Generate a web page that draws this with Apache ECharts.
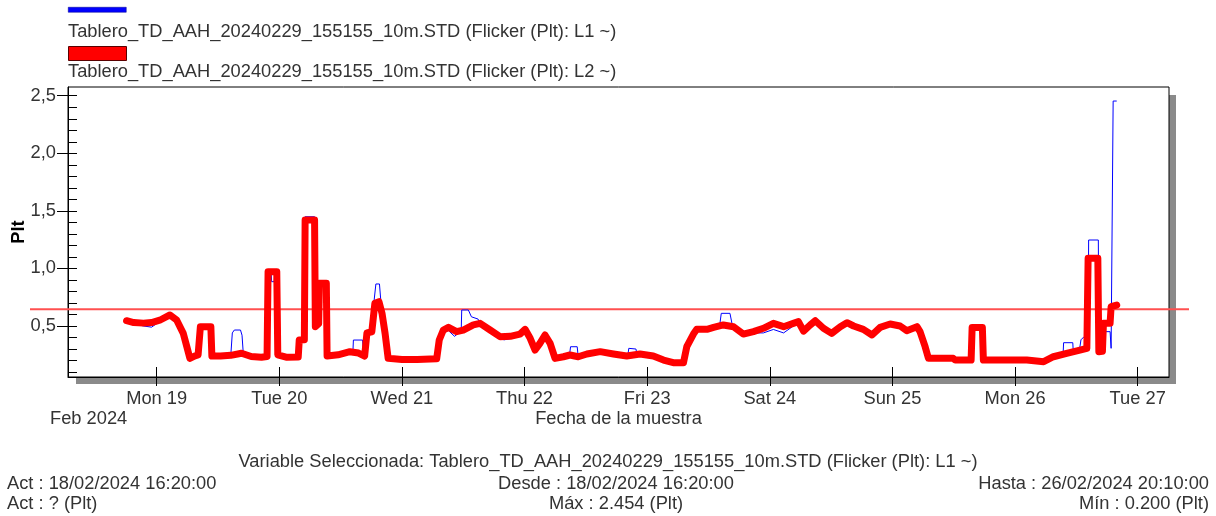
<!DOCTYPE html>
<html><head><meta charset="utf-8">
<script src="https://cdn.jsdelivr.net/npm/echarts@6/dist/echarts.min.js"></script>
<style>html,body{margin:0;padding:0;background:#fff}#c{width:1216px;height:516px}</style>
</head><body><div id="c"></div>
<script>
// ---- data (time = hours since 2024-02-18 00:00, value = Plt) ----
const seriesNames = [
  'Tablero_TD_AAH_20240229_155155_10m.STD (Flicker (Plt): L1 ~)',
  'Tablero_TD_AAH_20240229_155155_10m.STD (Flicker (Plt): L2 ~)'
];
const l1Data = [
  [18.1,0.546],[19.5,0.52],[21.4,0.5],[23.0,0.49],[24.6,0.54],[26.6,0.59],[27.9,0.55],[29.2,0.436],[29.9,0.32],[30.5,0.219],
  [31.5,0.24],[32.1,0.248],[32.4,0.25],[32.55,0.494],[34.6,0.494],[34.8,0.26],[35.5,0.262],[36.5,0.239],[38.5,0.245],[38.8,0.44],
  [39.2,0.465],[40.4,0.465],[40.7,0.42],[40.95,0.26],[42.5,0.235],[44.5,0.228],[45.6,0.235],[45.8,0.96],[46.4,0.96],[46.5,0.885],
  [47.0,0.885],[47.1,0.96],[47.5,0.96],[47.7,0.25],[49.5,0.228],[51.7,0.23],[51.9,0.378],[52.9,0.38],[53.05,1.449],[54.9,1.449],
  [55.05,0.494],[55.7,0.62],[55.9,0.72],[56.1,0.871],[57.2,0.871],[57.35,0.239],[59.5,0.25],[61.8,0.277],[62.4,0.27],[62.5,0.378],
  [64.3,0.378],[64.45,0.25],[65.0,0.25],[65.15,0.44],[66.1,0.45],[66.5,0.7],[66.9,0.865],[67.6,0.865],[67.9,0.7],[68.5,0.6],
  [68.8,0.43],[69.3,0.219],[72.0,0.21],[75.0,0.205],[78.8,0.21],[79.3,0.378],[80.1,0.45],[81.1,0.46],[82.3,0.41],[83.6,0.46],
  [83.7,0.639],[85.0,0.639],[85.6,0.58],[86.9,0.56],[87.3,0.523],[89.25,0.46],[91.2,0.39],[92.0,0.38],[93.2,0.39],[95.1,0.43],
  [96.1,0.471],[97.1,0.393],[98.06,0.291],[99.0,0.349],[100.0,0.422],[101.0,0.349],[101.97,0.219],[103.6,0.233],[104.8,0.248],[105.0,0.32],
  [106.3,0.32],[106.5,0.233],[108.2,0.257],[110.8,0.277],[113.4,0.257],[116.2,0.24],[116.4,0.306],[117.8,0.3],[118.0,0.255],[121.2,0.239],
  [123.2,0.204],[125.1,0.2],[127.1,0.2],[127.75,0.32],[129.05,0.43],[129.7,0.471],[131.7,0.471],[133.0,0.488],[134.2,0.51],[134.5,0.61],
  [136.2,0.61],[136.6,0.52],[138.8,0.43],[140.8,0.44],[142.75,0.44],[144.7,0.47],[146.7,0.44],[148.6,0.5],[149.6,0.53],[150.6,0.455],
  [151.9,0.509],[152.9,0.546],[154.5,0.48],[156.1,0.436],[157.8,0.494],[159.1,0.529],[160.4,0.5],[162.3,0.471],[164.0,0.422],[165.6,0.47],
  [167.55,0.5],[169.5,0.48],[170.8,0.44],[172.8,0.48],[173.4,0.451],[174.4,0.32],[175.05,0.219],[179.9,0.219],[180.3,0.204],[183.4,0.204],
  [183.6,0.488],[185.6,0.488],[185.8,0.204],[190.0,0.204],[194.3,0.204],[197.6,0.2],[199.5,0.233],[201.4,0.25],[201.5,0.355],[203.3,0.355],
  [203.4,0.27],[204.6,0.29],[204.9,0.38],[205.5,0.407],[206.3,0.407],[206.4,1.247],[208.3,1.247],[208.4,0.28],[209.1,0.28],[209.3,0.451],
  [210.6,0.451],[210.8,0.306],[211.1,0.306],[211.2,2.454],[211.9,2.454]
];
const l2Data = [
  [18.1,0.546],[19.5,0.53],[21.4,0.525],[23.0,0.53],[24.6,0.55],[26.6,0.596],[27.9,0.552],[29.2,0.436],[29.9,0.32],[30.5,0.219],
  [31.5,0.24],[32.1,0.248],[32.4,0.25],[32.55,0.494],[34.6,0.494],[34.8,0.239],[36.5,0.239],[38.5,0.245],[40.6,0.263],[42.5,0.235],
  [44.5,0.228],[45.6,0.235],[45.8,0.972],[47.5,0.972],[47.7,0.25],[49.5,0.228],[51.7,0.23],[51.9,0.378],[52.9,0.38],[53.05,1.42],
  [54.9,1.42],[55.05,0.494],[55.7,0.52],[55.85,0.871],[57.2,0.871],[57.35,0.239],[59.5,0.25],[61.8,0.277],[63.5,0.265],[64.7,0.239],
  [65.0,0.25],[65.15,0.44],[66.1,0.45],[66.7,0.697],[67.5,0.711],[68.1,0.61],[68.7,0.436],[69.3,0.219],[72.0,0.21],[75.0,0.21],
  [78.8,0.215],[79.3,0.378],[80.1,0.465],[81.1,0.488],[82.7,0.451],[84.0,0.465],[85.97,0.51],[87.3,0.523],[89.25,0.465],[91.2,0.407],
  [93.2,0.41],[95.1,0.43],[96.1,0.471],[97.1,0.393],[98.06,0.291],[99.0,0.349],[100.0,0.422],[101.0,0.349],[101.97,0.219],[103.6,0.233],
  [104.9,0.248],[106.5,0.233],[108.2,0.257],[110.8,0.277],[113.4,0.257],[116.0,0.239],[118.6,0.257],[121.2,0.239],[123.2,0.204],[125.1,0.181],
  [127.1,0.181],[127.75,0.32],[129.05,0.43],[129.7,0.471],[131.7,0.471],[133.0,0.488],[134.9,0.509],[136.9,0.494],[138.8,0.43],[140.8,0.451],
  [142.75,0.48],[144.7,0.523],[146.7,0.494],[148.6,0.523],[149.6,0.538],[150.6,0.455],[151.9,0.509],[152.9,0.546],[154.5,0.48],[156.1,0.436],
  [157.8,0.494],[159.1,0.529],[160.4,0.5],[162.3,0.471],[164.0,0.422],[165.6,0.488],[167.55,0.517],[169.5,0.5],[170.8,0.459],[172.8,0.494],
  [173.4,0.451],[174.4,0.32],[175.05,0.219],[179.9,0.219],[180.3,0.204],[183.4,0.204],[183.6,0.488],[185.6,0.488],[185.8,0.204],[190.0,0.204],
  [194.3,0.204],[197.6,0.19],[199.5,0.233],[202.1,0.263],[204.7,0.291],[206.05,0.306],[206.3,1.088],[208.2,1.088],[208.4,0.277],[209.1,0.28],
  [209.3,0.523],[210.6,0.523],[210.8,0.668],[211.9,0.682]
];
const thresholdValue = 0.645;
const xTickHours = [24, 48, 72, 96, 120, 144, 168, 192, 216];   // midnights of Feb 19 ... Feb 27
const xTickLabels = ['Mon 19', 'Tue 20', 'Wed 21', 'Thu 22', 'Fri 23', 'Sat 24', 'Sun 25', 'Mon 26', 'Tue 27'];
const yMajorTicks = [0.5, 1.0, 1.5, 2.0, 2.5];
const yTickLabels = ['0,5', '1,0', '1,5', '2,0', '2,5'];
const yMinorTicks = [0.1,0.2,0.3,0.4,0.5,0.6,0.7,0.8,0.9,1.0,1.1,1.2,1.3,1.4,1.5,1.6,1.7,1.8,1.9,2.0,2.1,2.2,2.3,2.4,2.5];
const yRange = [0.057, 2.576];
const xRangeHours = [6.64, 222.13];
const axisNames = { x: 'Fecha de la muestra', y: 'Plt', period: 'Feb 2024' };
const infoLines = {
  variable: 'Variable Seleccionada: Tablero_TD_AAH_20240229_155155_10m.STD (Flicker (Plt): L1 ~)',
  act1: 'Act : 18/02/2024 16:20:00',
  desde: 'Desde : 18/02/2024 16:20:00',
  hasta: 'Hasta : 26/02/2024 20:10:00',
  act2: 'Act : ? (Plt)',
  max: 'Máx : 2.454 (Plt)',
  min: 'Mín : 0.200 (Plt)'
};

// ---- build ----
const FONT = '"Liberation Sans", Arial, sans-serif';
const FS = 18.3;
const TXT = '#333';

const chart = echarts.init(document.getElementById('c'), null, { renderer: 'canvas' });

function findIdx(arr, v) { return arr.findIndex(t => Math.abs(t - v) < 1e-9); }
function txt(text, x, y, align) {
  return { type: 'text', x: x, y: y, silent: true, z: 10,
    style: { text: text, x: 0, y: 0, fontSize: FS, fontFamily: FONT, fill: TXT,
      align: align, textAlign: align, verticalAlign: 'middle', textVerticalAlign: 'middle' } };
}

const option = {
  animation: false,
  backgroundColor: '#fff',
  grid: [
    { left: 76, top: 95, width: 1100, height: 289, show: true, backgroundColor: '#8a8a8a', borderWidth: 0,
      containLabel: false, outerBoundsMode: 'none' },
    { left: 68, top: 87, width: 1101, height: 290, show: true, backgroundColor: '#fff', borderColor: '#000', borderWidth: 1,
      containLabel: false, outerBoundsMode: 'none' },
    { left: 30, top: 87, width: 1159, height: 290, show: false, containLabel: false, outerBoundsMode: 'none' }
  ],
  legend: [
    { data: [seriesNames[0]], left: 68, top: 7, padding: 0, icon: 'rect', itemWidth: 58, itemHeight: 5,
      formatter: () => '', selectedMode: false, itemStyle: { borderColor: '#00008a', borderWidth: 0.5 } },
    { data: [seriesNames[1]], left: 68, top: 46, padding: 0, icon: 'rect', itemWidth: 58, itemHeight: 14,
      formatter: () => '', selectedMode: false, itemStyle: { borderColor: '#5a0000', borderWidth: 1 } }
  ],
  xAxis: [
    { type: 'value', gridIndex: 0, show: false, min: 0, max: 1 },
    { type: 'value', gridIndex: 1, position: 'bottom', min: xRangeHours[0], max: xRangeHours[1],
      name: axisNames.x, nameLocation: 'middle', nameGap: 33, nameMoveOverlap: false,
      nameTextStyle: { fontSize: FS, fontFamily: FONT, color: TXT },
      axisLine: { onZero: false, lineStyle: { color: '#000', width: 1 } },
      axisTick: { show: true, inside: true, length: 10, customValues: xTickHours, lineStyle: { color: '#000' } },
      axisLabel: { show: true, customValues: xTickHours, margin: 13, fontSize: FS, fontFamily: FONT, color: TXT,
        formatter: v => { const i = findIdx(xTickHours, v); return i >= 0 ? xTickLabels[i] : ''; } },
      splitLine: { show: false } },
    { type: 'value', gridIndex: 1, position: 'bottom', min: xRangeHours[0], max: xRangeHours[1],
      axisLine: { show: false, onZero: false },
      axisTick: { show: true, inside: false, length: 9, customValues: xTickHours, lineStyle: { color: '#000' } },
      axisLabel: { show: false }, splitLine: { show: false } },
    { type: 'value', gridIndex: 2, show: false, min: 0, max: 1 }
  ],
  yAxis: [
    { type: 'value', gridIndex: 0, show: false, min: 0, max: 1 },
    { type: 'value', gridIndex: 1, position: 'left', min: yRange[0], max: yRange[1],
      name: axisNames.y, nameLocation: 'middle', nameGap: 40, nameRotate: 90, nameMoveOverlap: false,
      nameTextStyle: { fontSize: FS, fontFamily: FONT, color: '#000', fontWeight: 'bold' },
      axisLine: { show: true, onZero: false, lineStyle: { color: '#000', width: 1 } },
      axisTick: { show: true, inside: false, length: 11, customValues: yMajorTicks, lineStyle: { color: '#000' } },
      axisLabel: { show: true, customValues: yMajorTicks, margin: 12, fontSize: FS, fontFamily: FONT, color: TXT,
        formatter: v => { const i = findIdx(yMajorTicks, v); return i >= 0 ? yTickLabels[i] : ''; } },
      splitLine: { show: false } },
    { type: 'value', gridIndex: 1, position: 'left', min: yRange[0], max: yRange[1],
      axisLine: { show: false, onZero: false },
      axisTick: { show: true, inside: true, length: 9, customValues: yMinorTicks, lineStyle: { color: '#000' } },
      axisLabel: { show: false }, splitLine: { show: false } },
    { type: 'value', gridIndex: 2, show: false, min: yRange[0], max: yRange[1] }
  ],
  series: [
    { name: 'Umbral', type: 'line', xAxisIndex: 3, yAxisIndex: 3, silent: true, symbol: 'none',
      data: [[0, thresholdValue], [1, thresholdValue]],
      lineStyle: { color: '#ff5050', width: 2 } },
    { name: seriesNames[0], type: 'line', xAxisIndex: 1, yAxisIndex: 1, symbol: 'none', showSymbol: false,
      color: '#0000ff', data: l1Data,
      lineStyle: { color: '#0000ff', width: 1 } },
    { name: seriesNames[1], type: 'line', xAxisIndex: 1, yAxisIndex: 1, symbol: 'none', showSymbol: false,
      color: '#ff0000', data: l2Data,
      lineStyle: { color: '#ff0000', width: 7, cap: 'round', join: 'round' } }
  ],
  graphic: [
    txt(seriesNames[0], 68, 32, 'left'),
    txt(seriesNames[1], 68, 72, 'left'),
    txt(axisNames.period, 50, 419, 'left'),
    txt(infoLines.variable, 608, 462, 'center'),
    txt(infoLines.act1, 7, 484, 'left'),
    txt(infoLines.desde, 616, 484, 'center'),
    txt(infoLines.hasta, 1209, 484, 'right'),
    txt(infoLines.act2, 7, 504, 'left'),
    txt(infoLines.max, 616, 504, 'center'),
    txt(infoLines.min, 1209, 504, 'right')
  ]
};
chart.setOption(option);
</script></body></html>
